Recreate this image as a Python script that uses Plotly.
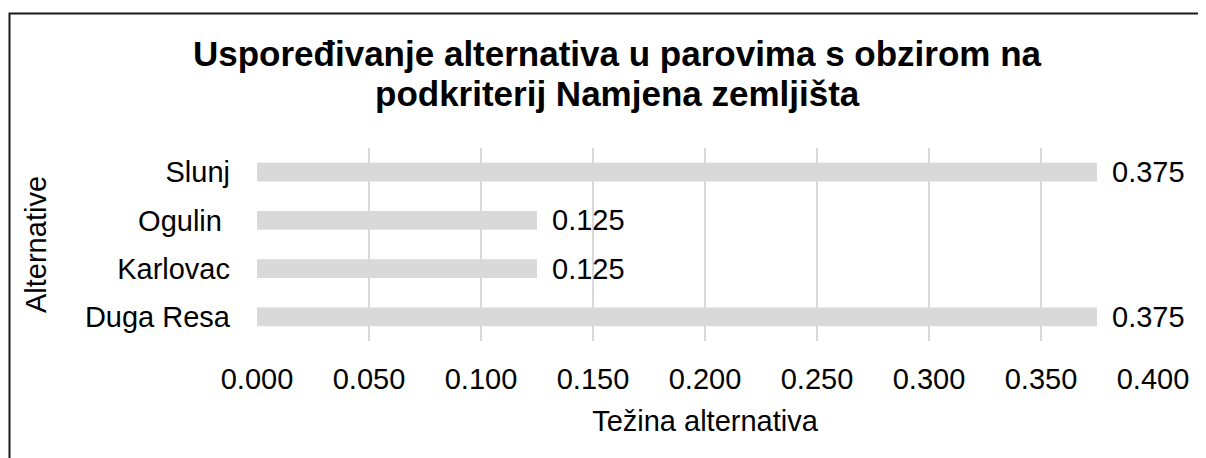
import plotly.graph_objects as go

categories = ["Duga Resa", "Karlovac", "Ogulin ", "Slunj"]
weights = [0.375, 0.125, 0.125, 0.375]
tick_vals = [0.0, 0.05, 0.1, 0.15, 0.2, 0.25, 0.3, 0.35, 0.4]
tick_text = ["0.000", "0.050", "0.100", "0.150", "0.200", "0.250", "0.300", "0.350", "0.400"]
label_text = ["0.375", "0.125", "0.125", "0.375"]

title_lines = ["Uspoređivanje alternativa u parovima s obzirom na",
               "podkriterij Namjena zemljišta"]
x_title = "Težina alternativa"
y_title = "Alternative"

FONT = "Liberation Sans, Arial, sans-serif"
FS = 29
TFS = 35
OFF = 8  # page body margin
W, H = 1206 - OFF, 458 - OFF
L, T = 257 - OFF, 148 - OFF
pw, ph = 896, 193
R = W - L - pw
B = H - T - ph

fig = go.Figure()
fig.add_trace(go.Bar(
    x=weights, y=categories, orientation="h",
    marker=dict(color="#D9D9D9", line=dict(width=0)),
    width=0.39, hoverinfo="x+y",
))

for v, c, t in zip(weights, categories, label_text):
    fig.add_annotation(x=v, y=c, text=t, showarrow=False, xanchor="left",
                       xshift=13, yshift=0,
                       font=dict(family=FONT, size=FS, color="#000000"))

# title lines (window baselines ~65 and ~106)
title_centers = [65 - OFF - 12, 106 - OFF - 12]
for line, cy in zip(title_lines, title_centers):
    fig.add_annotation(xref="paper", yref="paper",
                       x=(617 - OFF - L) / pw, y=(T + ph - cy) / ph,
                       text="<b>" + line + "</b>", showarrow=False,
                       xanchor="center", yanchor="middle",
                       font=dict(family=FONT, size=TFS, color="#000000"))

# outer chart border
bx = (9.5 - OFF - L) / pw
by = (T + ph - (13.5 - OFF)) / ph
fig.add_shape(type="rect", xref="paper", yref="paper",
              x0=bx, x1=1.3, y0=-1.0, y1=by,
              line=dict(color="#1a1a1a", width=2), fillcolor="rgba(0,0,0,0)", layer="above")

fig.update_layout(
    width=W, height=H,
    margin=dict(l=L, r=R, t=T, b=B, pad=0),
    paper_bgcolor="white", plot_bgcolor="white",
    showlegend=False,
    font=dict(family=FONT, size=FS, color="#000000"),
)
fig.update_xaxes(
    range=[0, 0.4], tickmode="array", tickvals=tick_vals, ticktext=tick_text,
    showgrid=True, gridcolor="#D9D9D9", gridwidth=1.5,
    zeroline=False, showline=False, ticks="", ticklabelstandoff=18,
    tickfont=dict(family=FONT, size=FS, color="#000000"),
    title=dict(text=x_title, font=dict(family=FONT, size=FS, color="#000000"), standoff=16),
)
fig.update_yaxes(
    categoryorder="array", categoryarray=categories,
    showgrid=False, zeroline=False, showline=False, ticks="",
    ticklabelstandoff=26,
    tickfont=dict(family=FONT, size=FS, color="#000000"),
    title=dict(text=y_title, font=dict(family=FONT, size=FS, color="#000000"), standoff=29),
)

fig.write_html("out.html")
